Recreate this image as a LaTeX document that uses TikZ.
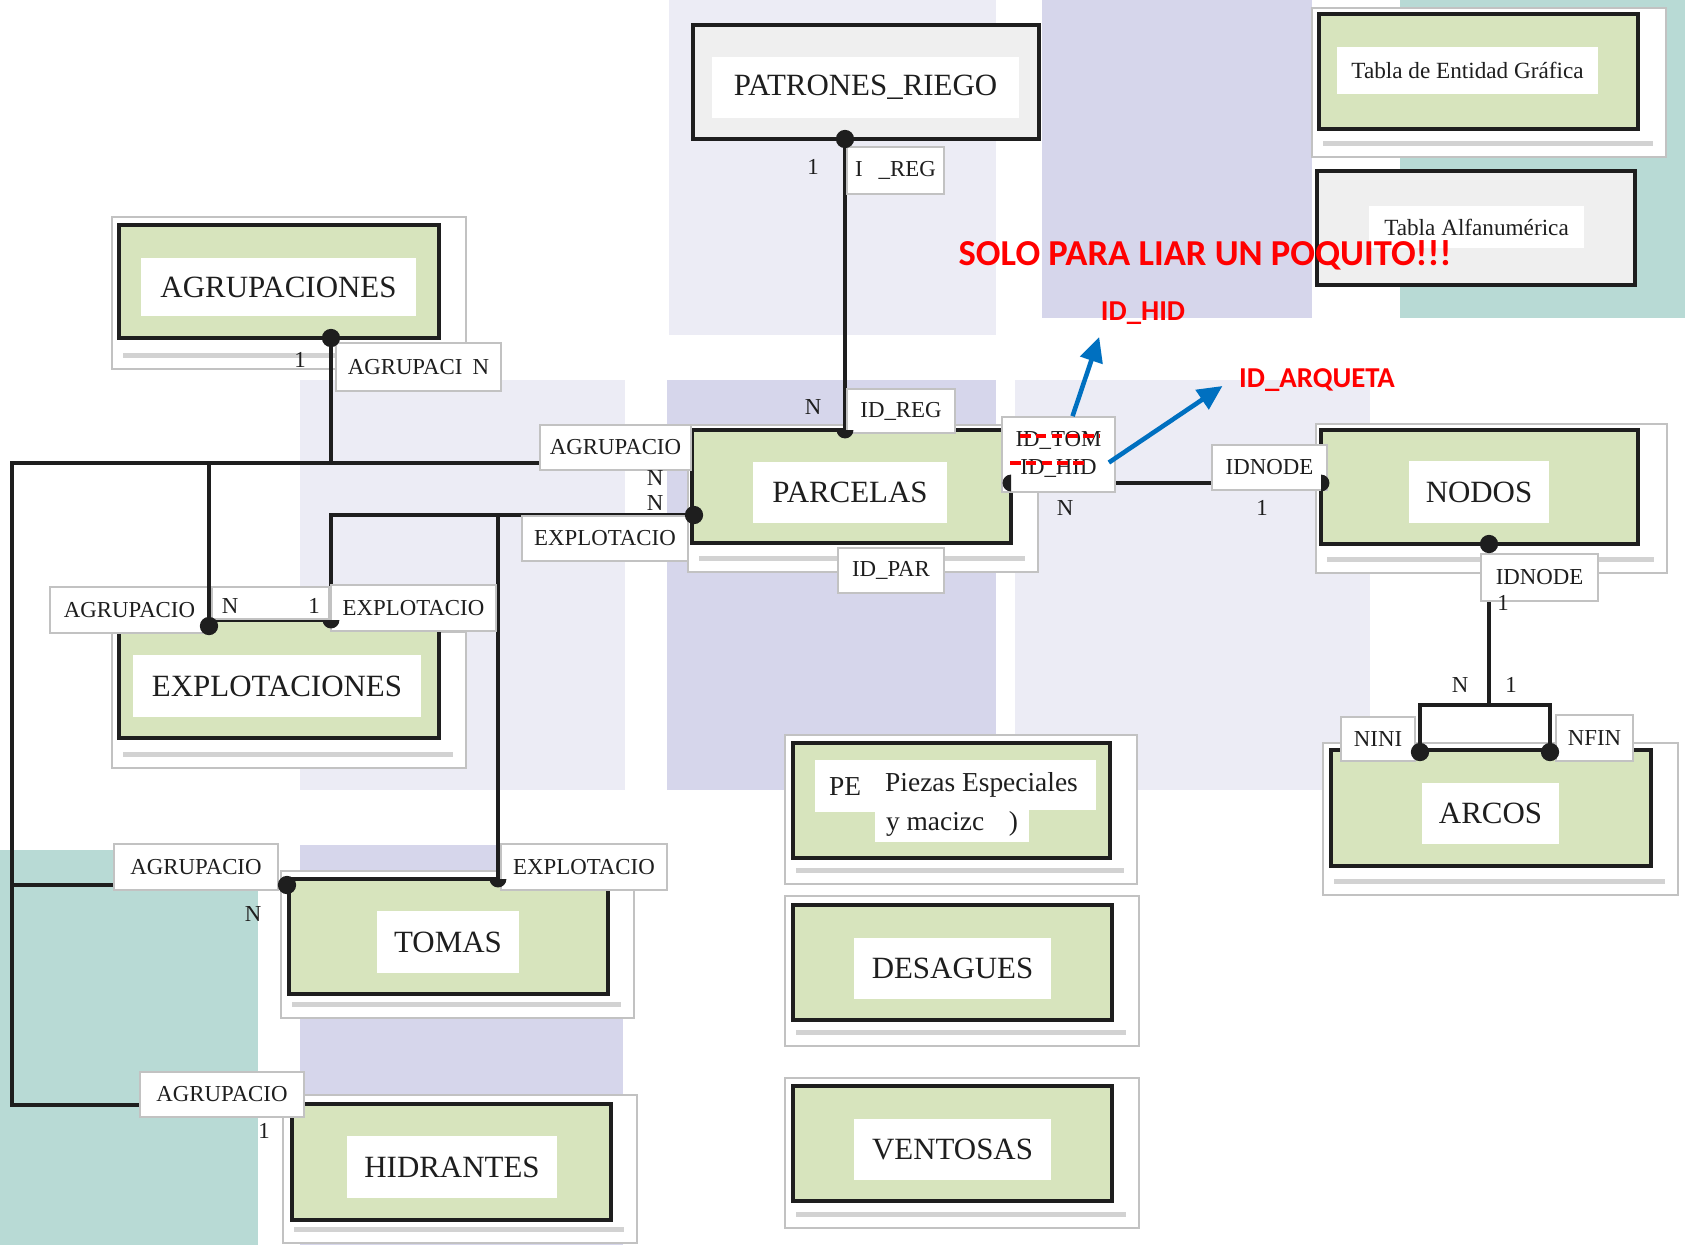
\documentclass[tikz,border=0pt]{standalone}
\usepackage{fontspec}
\setmainfont{Liberation Serif}
\newfontfamily\notefont{Carlito}
\usepackage{tikz}
\usetikzlibrary{arrows.meta, fit}
\definecolor{er_ink}{HTML}{1E1E1E}
\definecolor{er_green}{HTML}{D7E4BD}
\definecolor{er_grey}{HTML}{EFEFEF}
\definecolor{er_frame}{HTML}{C2C2C2}
\definecolor{er_shadow}{HTML}{D2D2D2}
\definecolor{er_lav}{HTML}{D6D6EB}
\definecolor{er_lavlight}{HTML}{ECECF5}
\definecolor{er_teal}{HTML}{B8DAD5}
\definecolor{er_red}{HTML}{FF0000}
\definecolor{er_blue}{HTML}{0070C0}

\begin{document}
\begin{tikzpicture}[
    x=0.1mm, y=-0.1mm,
    entbox/.style={draw=er_ink, line width=1.2pt, fill=er_green, inner sep=0pt},
    greybox/.style={entbox, fill=er_grey},
    shadowbox/.style={draw=er_frame, line width=0.5pt, fill=white, inner sep=0pt},
    shadowline/.style={draw=er_shadow, line width=1.4pt},
    entname/.style={fill=white, inner sep=0pt, text=er_ink, font=\fontsize{8.8}{10}\selectfont},
    attrbox/.style={draw=er_frame, line width=0.5pt, fill=white, inner sep=0pt,
                    text=er_ink, font=\fontsize{6.5}{8}\selectfont},
    cardtxt/.style={text=er_ink, inner sep=0pt, font=\fontsize{6.5}{8}\selectfont},
    conn/.style={draw=er_ink, line width=1pt},
    redtxt/.style={text=er_red, inner sep=0pt, font=\notefont\bfseries\fontsize{8.2}{9}\selectfont},
    bluearrow/.style={draw=er_blue, line width=1.3pt, -{Triangle[length=7pt, width=6.5pt]}},
    strike/.style={draw=er_red, line width=0.9pt, dash pattern=on 3pt off 1.5pt}
]
\useasboundingbox (0,0) rectangle (1685,1245);

% -------- Background panels ---------------------------------
\fill[white]       (0,0)     rectangle (1685,1245);
\fill[er_lavlight] (669,0)   rectangle (996,335);
\fill[er_lav]      (1042,0)  rectangle (1312,318);
\fill[er_teal]     (1400,0)  rectangle (1685,318);
\fill[er_lavlight] (300,380) rectangle (625,790);
\fill[er_lav]      (667,380) rectangle (996,790);
\fill[er_lavlight] (1015,380) rectangle (1370,790);
\fill[er_teal]     (0,850)   rectangle (258,1245);
\fill[er_lav]      (300,845) rectangle (623,1245);

% -------- Shadow frames behind the tables -------------------
\node[shadowbox, fit={(112,217) (466,369)}]   (agr_frame) {};
\node[shadowbox, fit={(112,632) (466,768)}]   (exp_frame) {};
\node[shadowbox, fit={(281,871) (634,1018)}]  (tom_frame) {};
\node[shadowbox, fit={(283,1095) (637,1243)}] (hid_frame) {};
\node[shadowbox, fit={(688,425) (1038,572)}]  (par_frame) {};
\node[shadowbox, fit={(785,735) (1137,884)}]  (pe_frame) {};
\node[shadowbox, fit={(785,896) (1139,1046)}] (des_frame) {};
\node[shadowbox, fit={(785,1078) (1139,1228)}] (ven_frame) {};
\node[shadowbox, fit={(1316,424) (1667,573)}] (nod_frame) {};
\node[shadowbox, fit={(1323,743) (1678,895)}] (arc_frame) {};
\node[shadowbox, fit={(1312,8) (1666,157)}]   (tabla_frame) {};
% soft line near the bottom of each frame
\foreach \f in {agr_frame, exp_frame, tom_frame, hid_frame, par_frame, pe_frame,
                des_frame, ven_frame, nod_frame, arc_frame, tabla_frame} {
    \draw[shadowline] ([shift={(12,-14)}]\f.south west) -- ([shift={(-14,-14)}]\f.south east);
}

% -------- Tables ---------------------------------------------
\node[greybox, fit={(693,25) (1039,139)}]    (patrones) {};
\node[entbox,  fit={(119,225) (439,338)}]    (agrupaciones) {};
\node[entbox,  fit={(119,620) (439,738)}]    (explotaciones) {};
\node[entbox,  fit={(289,879) (608,994)}]    (tomas) {};
\node[entbox,  fit={(292,1104) (611,1220)}]  (hidrantes) {};
\node[entbox,  fit={(692,430) (1011,543)}]   (parcelas) {};
\node[entbox,  fit={(793,743) (1110,858)}]   (piezas) {};
\node[entbox,  fit={(793,905) (1112,1020)}]  (desagues) {};
\node[entbox,  fit={(793,1086) (1112,1201)}] (ventosas) {};
\node[entbox,  fit={(1321,430) (1638,544)}]  (nodos) {};
\node[entbox,  fit={(1331,750) (1651,866)}]  (arcos) {};
\node[entbox,  fit={(1319,14) (1638,129)}]   (tabla_ent) {};
\node[greybox, fit={(1317,171) (1635,285)}]  (tabla_alf) {};

% table names on white plates
\node[entname, minimum width=30.7mm, minimum height=6.1mm] (patrones_name) at (865.5,87.5) {PATRONES\_RIEGO};
\node[entname, minimum width=27.5mm, minimum height=5.8mm] (agrupaciones_name) at (278.5,287) {AGRUPACIONES};
\node[entname, minimum width=28.8mm, minimum height=6.2mm] (explotaciones_name) at (277,686) {EXPLOTACIONES};
\node[entname, minimum width=14.2mm, minimum height=6.2mm] (tomas_name) at (448,942) {TOMAS};
\node[entname, minimum width=21mm, minimum height=6.2mm]   (hidrantes_name) at (452,1167) {HIDRANTES};
\node[entname, minimum width=19.4mm, minimum height=6.1mm] (parcelas_name) at (850,492.5) {PARCELAS};
\node[entname, minimum width=19.7mm, minimum height=6.1mm] (desagues_name) at (952.5,968.5) {DESAGUES};
\node[entname, minimum width=19.7mm, minimum height=6.1mm] (ventosas_name) at (952.5,1149.5) {VENTOSAS};
\node[entname, minimum width=14mm, minimum height=6.2mm]   (nodos_name) at (1479,492) {NODOS};
\node[entname, minimum width=13.7mm, minimum height=6.1mm] (arcos_name) at (1490.5,813.5) {ARCOS};
\node[entname, font=\fontsize{7.8}{9}\selectfont, minimum width=6mm, minimum height=5.2mm]
    (pe_name) at (845,786) {PE};
\node[entname, font=\fontsize{7.8}{9}\selectfont, minimum width=22.9mm, minimum height=5mm]
    (piezas_name) at (981.5,785) {Piezas Especiales};
\node[entname, font=\fontsize{7.8}{9}\selectfont, minimum width=15.4mm, minimum height=3.6mm]
    (maciz_name) at (952,824) {y macizc\hspace{0.9em})};
\node[entname, font=\fontsize{6.6}{8}\selectfont, minimum width=26.1mm, minimum height=4.7mm]
    (tabla_ent_name) at (1467.5,70.5) {Tabla de Entidad Gráfica};
\node[entname, font=\fontsize{6.6}{8}\selectfont, minimum width=21.5mm, minimum height=4.2mm]
    (tabla_alf_name) at (1476.5,227) {Tabla Alfanumérica};

% -------- Relations ------------------------------------------
\coordinate (riego_dot) at (845,139);
\coordinate (par_top)   at (845,430);
\coordinate (agr_dot)   at (331,338);
\coordinate (agr_left)  at (12,463);
\coordinate (par_agr)   at (692,463);
\coordinate (exp_agr)   at (209,626);
\coordinate (tom_agr)   at (287,885);
\coordinate (hid_agr)   at (292,1105);
\coordinate (par_exp)   at (694,515);
\coordinate (exp_exp)   at (331,620);
\coordinate (tom_exp)   at (498,879);
\coordinate (par_east)  at (1011,483);
\coordinate (nod_west)  at (1321,483);
\coordinate (nod_dot)   at (1489,544);
\coordinate (arc_fork)  at (1489,705);
\coordinate (arc_nini)  at (1420,752);
\coordinate (arc_nfin)  at (1550,752);

\draw[conn] (riego_dot) -- (par_top);
\draw[conn] (agr_dot) -- (agr_dot |- agr_left);
\draw[conn] (par_agr) -- (agr_left) |- (hid_agr);
\draw[conn] (agr_left |- tom_agr) -- (tom_agr);
\draw[conn] (exp_agr |- agr_left) -- (exp_agr);
\draw[conn] (par_exp) -| (exp_exp);
\draw[conn] (par_exp -| tom_exp) -- (tom_exp);
\draw[conn] (par_east) -- (nod_west);
\draw[conn] (nod_dot) -- (arc_fork);
\draw[conn] (arc_nini) -- (arc_nini |- arc_fork) -- (arc_nfin |- arc_fork) -- (arc_nfin);

% -------- Key labels -----------------------------------------
\node[attrbox, minimum width=16.5mm, minimum height=4.8mm] (agr_lbl) at (418.5,367) {AGRUPACI\hspace{0.45em}N};
\node[attrbox, minimum width=9.7mm, minimum height=4.7mm]  (riego_lbl) at (895.5,170.5) {I\hspace{0.7em}\_REG};
\node[attrbox, minimum width=10.8mm, minimum height=4.4mm] (par_reg_lbl) at (901,411) {ID\_REG};
\node[attrbox, minimum width=15.1mm, minimum height=4.5mm] (par_agr_lbl) at (615.5,447.5) {AGRUPACIO};
\node[attrbox, minimum width=16.6mm, minimum height=4.5mm] (par_exp_lbl) at (605,538.5) {EXPLOTACIO};
\node[attrbox, minimum width=10.6mm, minimum height=4.5mm] (par_id_lbl) at (891,570.5) {ID\_PAR};
\node[attrbox, minimum width=11.3mm, minimum height=7.5mm, align=center]
    (par_hid_lbl) at (1058.5,454.5) {ID\_TOM\\ID\_HID};
\node[attrbox, minimum width=11.5mm, minimum height=4.5mm] (nod_id_lbl) at (1269.5,467.5) {IDNODE};
\node[attrbox, minimum width=11.7mm, minimum height=4.7mm] (nod_id2_lbl) at (1539.5,577.5) {IDNODE};
\node[attrbox, minimum width=15.9mm, minimum height=4.6mm] (exp_agr_lbl) at (129.5,610) {AGRUPACIO};
\node[attrbox, minimum width=11.7mm, minimum height=3.2mm] (exp_gap) at (270.5,603) {};
\node[attrbox, minimum width=16.5mm, minimum height=4.6mm] (exp_exp_lbl) at (413.5,608) {EXPLOTACIO};
\node[attrbox, minimum width=16.4mm, minimum height=4.6mm] (tom_agr_lbl) at (196,867) {AGRUPACIO};
\node[attrbox, minimum width=16.6mm, minimum height=4.6mm] (tom_exp_lbl) at (584,867) {EXPLOTACIO};
\node[attrbox, minimum width=16.4mm, minimum height=4.5mm] (hid_agr_lbl) at (222,1094.5) {AGRUPACIO};
\node[attrbox, minimum width=7.4mm, minimum height=4.4mm]  (arc_nini_lbl) at (1378,739) {NINI};
\node[attrbox, minimum width=7.7mm, minimum height=4.6mm]  (arc_nfin_lbl) at (1594.5,738) {NFIN};
\draw[conn] (exp_agr |- exp_gap.north) -- (exp_agr);

% -------- Connection dots ------------------------------------
\foreach \p in {riego_dot, agr_dot, par_exp, exp_agr, tom_agr, nod_dot, arc_nini, arc_nfin} {
    \fill[er_ink] (\p) circle (2.6pt);
}
% half dots, inside the table they touch
\foreach \p in {par_top, exp_exp, tom_exp} {
    \fill[er_ink] ([xshift=-2.4pt]\p) arc[start angle=180, end angle=360, radius=2.4pt] -- cycle;
}
\fill[er_ink] ([yshift=2.4pt]par_east) arc[start angle=90, end angle=270, radius=2.4pt] -- cycle;
\fill[er_ink] ([yshift=-2.4pt]nod_west) arc[start angle=-90, end angle=90, radius=2.4pt] -- cycle;

% -------- Cardinalities --------------------------------------
\node[cardtxt] (agr_c1)   at (300,360)  {1};
\node[cardtxt] (riego_c1) at (813,167)  {1};
\node[cardtxt] (riego_cn) at (813,407)  {N};
\node[cardtxt] (par_cn1)  at (655,478)  {N};
\node[cardtxt] (par_cn2)  at (655,503)  {N};
\node[cardtxt] (hid_cn)   at (1065,508) {N};
\node[cardtxt] (nod_c1)   at (1262,508) {1};
\node[cardtxt] (nod_c2)   at (1503,603) {1};
\node[cardtxt] (arc_cn)   at (1460,685) {N};
\node[cardtxt] (arc_c1)   at (1511,685) {1};
\node[cardtxt] (exp_cn)   at (230,606)  {N};
\node[cardtxt] (exp_c1)   at (314,606)  {1};
\node[cardtxt] (tom_cn)   at (253,914)  {N};
\node[cardtxt] (hid_c1)   at (264,1131) {1};

% -------- Notes added in red and blue ------------------------
\draw[strike] (1020,436) -- (1100,436);
\draw[strike] (1010,463) -- (1087,463);
\node[redtxt, font=\notefont\bfseries\fontsize{10.4}{12}\selectfont] (solo_note) at (1205,255)
    {SOLO PARA LIAR UN POQUITO!!!};
\node[redtxt] (hid_note) at (1143,313) {ID\_HID};
\node[redtxt] (arq_note) at (1317,380) {ID\_ARQUETA};
\draw[bluearrow] ([xshift=4]par_hid_lbl.north) -- ([shift={(-1,12)}]hid_note.south west);
\draw[bluearrow] ([shift={(-7,8)}]par_hid_lbl.east) -- ([shift={(-16,6)}]arq_note.west);

\end{tikzpicture}
\end{document}
